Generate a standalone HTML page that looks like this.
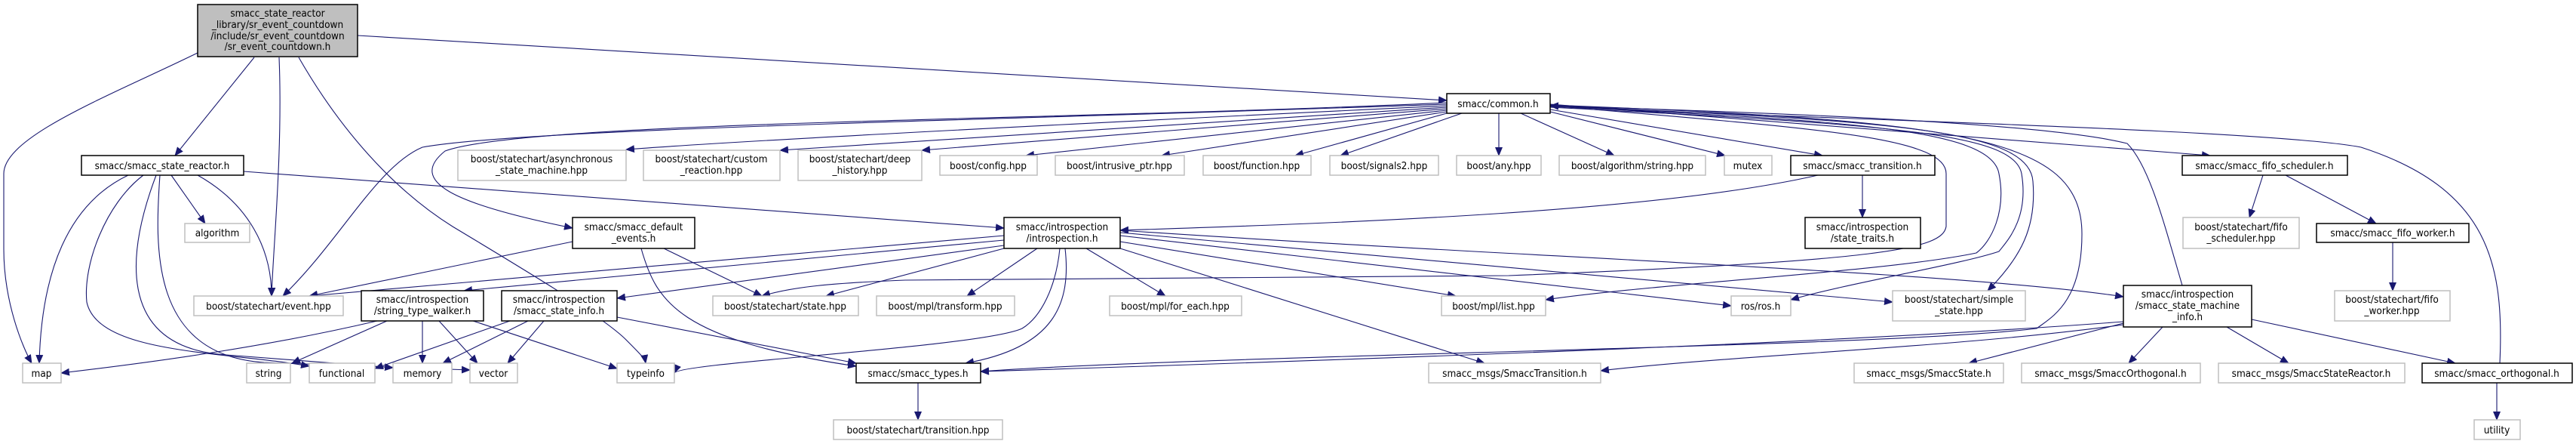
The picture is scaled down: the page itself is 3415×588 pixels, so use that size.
<!DOCTYPE html>
<html><head><meta charset="utf-8"><style>
html,body{margin:0;padding:0;background:#fff;}
svg{display:block;}
text{font-family:"DejaVu Sans Condensed","DejaVu Sans","Liberation Sans",sans-serif;font-size:13.5px;fill:#000;text-anchor:middle;}
.g{fill:#fff;stroke:#bfbfbf;stroke-width:1.5;}
.b{fill:#fff;stroke:#000;stroke-width:1.5;}
.e{fill:none;stroke:#191970;stroke-width:1.1;}
</style></head><body>
<svg width="3415" height="588" viewBox="0 0 3415 588" xmlns="http://www.w3.org/2000/svg">
<defs><marker id="a" markerWidth="12" markerHeight="10" refX="11" refY="5" orient="auto" markerUnits="userSpaceOnUse"><path d="M0,0 L12,5 L0,10 z" fill="#191970"/></marker></defs>
<g marker-end="url(#a)">
<path class="e" d="M474,47 L1918,133"/>
<path class="e" d="M262,70 C150,125 5,180 5,230 L5,330 C5,400 30,460 42,481"/>
<path class="e" d="M337,76 L232,206"/>
<path class="e" d="M370,76 C375,200 362,330 360,392"/>
<path class="e" d="M396,76 C450,170 520,250 600,300 C700,360 800,420 830,450 C850,470 855,475 856,481"/>
<path class="e" d="M170,232 C90,270 55,360 52,481"/>
<path class="e" d="M190,232 C140,270 110,350 115,400 C130,470 300,465 410,485"/>
<path class="e" d="M207,232 C170,330 150,460 300,470 L521,487"/>
<path class="e" d="M212,232 C205,330 200,470 350,480 L623,490"/>
<path class="e" d="M227,232 L272,296"/>
<path class="e" d="M262,232 C330,270 360,330 360,392"/>
<path class="e" d="M323,227 L1331,302"/>
<path class="e" d="M759,320 L410,392"/>
<path class="e" d="M880,329 L1010,392"/>
<path class="e" d="M850,329 C870,400 900,450 1135,485"/>
<path class="e" d="M1331,312 L410,392"/>
<path class="e" d="M1331,318 L615,385"/>
<path class="e" d="M1331,325 L818,395"/>
<path class="e" d="M1331,329 L1095,392"/>
<path class="e" d="M1375,329 L1282,392"/>
<path class="e" d="M1440,329 L1545,392"/>
<path class="e" d="M1405,329 C1400,380 1380,420 1355,435 C1300,460 900,480 894,494"/>
<path class="e" d="M1412,329 C1420,400 1400,460 1280,481"/>
<path class="e" d="M1485,320 L1930,392"/>
<path class="e" d="M1485,312 L2295,405"/>
<path class="e" d="M1485,308 L2509,400"/>
<path class="e" d="M1485,305 C2000,340 2600,360 2815,393"/>
<path class="e" d="M1485,329 L1968,481"/>
<path class="e" d="M500,425 C350,460 200,480 81,494"/>
<path class="e" d="M513,425 L387,481"/>
<path class="e" d="M560,425 L560,481"/>
<path class="e" d="M582,425 L633,481"/>
<path class="e" d="M627,425 L818,488"/>
<path class="e" d="M676,425 L497,488"/>
<path class="e" d="M700,425 L587,481"/>
<path class="e" d="M721,425 L673,481"/>
<path class="e" d="M818,420 L1135,481"/>
<path class="e" d="M1918,140 C1500,160 1000,185 830,198"/>
<path class="e" d="M1918,142 L1034,199"/>
<path class="e" d="M1918,144 L1222,199"/>
<path class="e" d="M1918,146 L1360,206"/>
<path class="e" d="M1918,148 L1540,206"/>
<path class="e" d="M1918,150 L1717,206"/>
<path class="e" d="M1938,150 L1777,206"/>
<path class="e" d="M1987,150 L1987,206"/>
<path class="e" d="M2016,150 L2140,206"/>
<path class="e" d="M2055,148 L2287,206"/>
<path class="e" d="M2055,145 L2416,206"/>
<path class="e" d="M2055,138 L2930,206"/>
<path class="e" d="M1918,138 C1300,160 700,170 560,195 C500,220 450,320 375,392"/>
<path class="e" d="M1918,136 C1400,160 700,160 590,200 C540,240 600,270 759,302"/>
<path class="e" d="M2055,140 C2400,170 2580,180 2580,230 L2580,300 C2575,330 2500,345 2000,365 L1200,371 C1100,375 1050,380 1010,392"/>
<path class="e" d="M2410,232 C2200,280 1800,295 1485,305"/>
<path class="e" d="M2469,232 L2469,288"/>
<path class="e" d="M3000,232 L2982,288"/>
<path class="e" d="M3030,232 L3150,296"/>
<path class="e" d="M3172,321 L3172,385"/>
<path class="e" d="M2893,378 C2870,300 2850,220 2820,190 C2700,160 2300,148 2055,140"/>
<path class="e" d="M2815,428 L2610,481"/>
<path class="e" d="M2867,433 L2822,481"/>
<path class="e" d="M2952,433 L3034,481"/>
<path class="e" d="M2985,423 L3255,481"/>
<path class="e" d="M2815,430 C2600,460 2300,470 2122,491"/>
<path class="e" d="M2815,426 C2500,450 2000,470 1300,492"/>
<path class="e" d="M3314,481 C3320,350 3300,250 3130,195 C3000,170 2300,155 2055,140"/>
<path class="e" d="M3310,507 L3310,556"/>
<path class="e" d="M1217,507 L1217,556"/>
<path class="e" d="M2055,141 C2450,160 2640,170 2650,230 C2660,280 2640,320 2620,335 C2500,360 2200,375 2049,397"/>
<path class="e" d="M2055,142 C2500,165 2670,175 2680,230 C2690,290 2660,320 2650,333 C2600,350 2450,375 2374,397"/>
<path class="e" d="M2055,140 C2500,160 2690,170 2695,240 C2700,300 2680,340 2635,385"/>
<path class="e" d="M2055,139 C2600,160 2760,180 2760,310 C2760,400 2720,420 2700,435 C2500,460 1600,470 1300,492"/>
</g>
<!-- nodes -->
<rect x="262" y="6" width="212" height="69" fill="#bfbfbf" stroke="#000" stroke-width="1.5"/>
<text x="368" y="22">smacc_state_reactor</text><text x="368" y="37">_library/sr_event_countdown</text><text x="368" y="52">/include/sr_event_countdown</text><text x="368" y="66">/sr_event_countdown.h</text>

<rect class="b" x="108" y="206" width="215" height="26"/><text x="215" y="224">smacc/smacc_state_reactor.h</text>
<rect class="g" x="245" y="296" width="86" height="25"/><text x="288" y="313">algorithm</text>
<rect class="g" x="257" y="392" width="198" height="26"/><text x="356" y="410">boost/statechart/event.hpp</text>
<rect class="g" x="30" y="481" width="51" height="26"/><text x="55" y="499">map</text>
<rect class="g" x="327" y="481" width="58" height="26"/><text x="356" y="499">string</text>
<rect class="g" x="410" y="481" width="87" height="26"/><text x="453" y="499">functional</text>
<rect class="g" x="521" y="481" width="78" height="26"/><text x="560" y="499">memory</text>
<rect class="g" x="623" y="481" width="63" height="26"/><text x="654" y="499">vector</text>
<rect class="g" x="818" y="481" width="76" height="26"/><text x="856" y="499">typeinfo</text>
<rect class="b" x="479" y="385" width="162" height="40"/><text x="560" y="401">smacc/introspection</text><text x="560" y="416">/string_type_walker.h</text>
<rect class="b" x="665" y="385" width="153" height="40"/><text x="741" y="401">smacc/introspection</text><text x="741" y="416">/smacc_state_info.h</text>
<rect class="b" x="759" y="288" width="162" height="41"/><text x="840" y="305">smacc/smacc_default</text><text x="840" y="320">_events.h</text>
<rect class="g" x="607" y="199" width="223" height="40"/><text x="718" y="215">boost/statechart/asynchronous</text><text x="718" y="230">_state_machine.hpp</text>
<rect class="g" x="853" y="199" width="181" height="40"/><text x="943" y="215">boost/statechart/custom</text><text x="943" y="230">_reaction.hpp</text>
<rect class="g" x="1058" y="199" width="164" height="40"/><text x="1140" y="215">boost/statechart/deep</text><text x="1140" y="230">_history.hpp</text>
<rect class="g" x="1246" y="206" width="129" height="26"/><text x="1310" y="224">boost/config.hpp</text>
<rect class="g" x="1399" y="206" width="171" height="26"/><text x="1484" y="224">boost/intrusive_ptr.hpp</text>
<rect class="g" x="1595" y="206" width="143" height="26"/><text x="1666" y="224">boost/function.hpp</text>
<rect class="b" x="1331" y="288" width="154" height="41"/><text x="1408" y="305">smacc/introspection</text><text x="1408" y="320">/introspection.h</text>
<rect class="g" x="945" y="392" width="193" height="26"/><text x="1041" y="410">boost/statechart/state.hpp</text>
<rect class="g" x="1162" y="392" width="183" height="26"/><text x="1253" y="410">boost/mpl/transform.hpp</text>
<rect class="g" x="1471" y="392" width="175" height="26"/><text x="1558" y="410">boost/mpl/for_each.hpp</text>
<rect class="b" x="1135" y="481" width="165" height="26"/><text x="1217" y="499">smacc/smacc_types.h</text>
<rect class="g" x="1105" y="556" width="224" height="26"/><text x="1217" y="574">boost/statechart/transition.hpp</text>
<rect class="b" x="1918" y="124" width="137" height="26"/><text x="1986" y="142">smacc/common.h</text>
<rect class="g" x="1763" y="206" width="144" height="26"/><text x="1835" y="224">boost/signals2.hpp</text>
<rect class="g" x="1931" y="206" width="112" height="26"/><text x="1987" y="224">boost/any.hpp</text>
<rect class="g" x="2067" y="206" width="194" height="26"/><text x="2164" y="224">boost/algorithm/string.hpp</text>
<rect class="g" x="2286" y="206" width="63" height="26"/><text x="2317" y="224">mutex</text>
<rect class="b" x="2374" y="206" width="191" height="26"/><text x="2469" y="224">smacc/smacc_transition.h</text>
<rect class="b" x="2393" y="288" width="153" height="41"/><text x="2469" y="305">smacc/introspection</text><text x="2469" y="320">/state_traits.h</text>
<rect class="g" x="1911" y="392" width="138" height="26"/><text x="1980" y="410">boost/mpl/list.hpp</text>
<rect class="g" x="2295" y="392" width="79" height="26"/><text x="2334" y="410">ros/ros.h</text>
<rect class="g" x="2509" y="385" width="176" height="40"/><text x="2597" y="401">boost/statechart/simple</text><text x="2597" y="416">_state.hpp</text>
<rect class="g" x="1894" y="481" width="228" height="26"/><text x="2008" y="499">smacc_msgs/SmaccTransition.h</text>
<rect class="g" x="2458" y="481" width="198" height="26"/><text x="2557" y="499">smacc_msgs/SmaccState.h</text>
<rect class="b" x="2815" y="378" width="170" height="55"/><text x="2900" y="394">smacc/introspection</text><text x="2900" y="409">/smacc_state_machine</text><text x="2900" y="424">_info.h</text>
<rect class="g" x="2680" y="481" width="237" height="26"/><text x="2798" y="499">smacc_msgs/SmaccOrthogonal.h</text>
<rect class="g" x="2941" y="481" width="247" height="26"/><text x="3064" y="499">smacc_msgs/SmaccStateReactor.h</text>
<rect class="b" x="3211" y="481" width="199" height="26"/><text x="3310" y="499">smacc/smacc_orthogonal.h</text>
<rect class="g" x="3280" y="556" width="61" height="26"/><text x="3310" y="574">utility</text>
<rect class="b" x="2893" y="206" width="219" height="26"/><text x="3002" y="224">smacc/smacc_fifo_scheduler.h</text>
<rect class="g" x="2894" y="288" width="154" height="41"/><text x="2971" y="305">boost/statechart/fifo</text><text x="2971" y="320">_scheduler.hpp</text>
<rect class="b" x="3071" y="296" width="202" height="25"/><text x="3172" y="313">smacc/smacc_fifo_worker.h</text>
<rect class="g" x="3095" y="385" width="153" height="40"/><text x="3171" y="401">boost/statechart/fifo</text><text x="3171" y="416">_worker.hpp</text>
</svg>
</body></html>
